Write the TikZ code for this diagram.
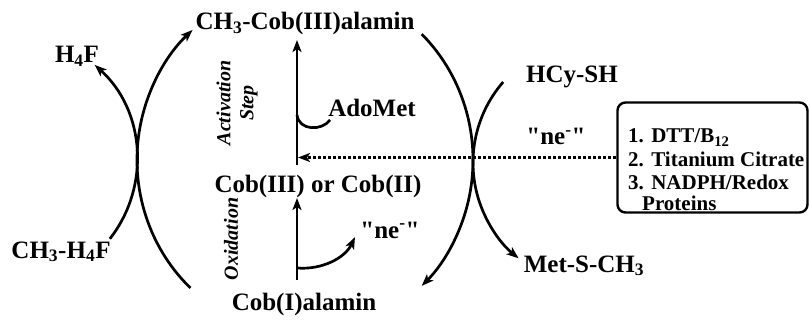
\documentclass[tikz,border=0pt]{standalone}
\usepackage{fontspec}
\setmainfont{Liberation Serif}[Ligatures=TeXOff]
\usetikzlibrary{arrows.meta}
\begin{document}
\begin{tikzpicture}[x=1pt,y=1pt,
  lbl/.style={font=\fontsize{25}{29}\selectfont\bfseries, inner sep=0pt, anchor=base},
  boxtxt/.style={font=\fontsize{21}{24}\selectfont\bfseries, inner sep=0pt, anchor=base west},
  side/.style={font=\fontsize{20}{23}\selectfont\bfseries\itshape, inner sep=0pt, rotate=90, align=center},
  plain/.style={line width=2.7pt},
  tip/.style={-{Stealth[length=12pt,width=9pt,inset=3pt]}},
  dots/.style={line width=2.3pt, dash pattern=on 3pt off 2pt},
  box/.style={draw, line width=2.4pt, rounded corners=8pt, minimum width=190pt, minimum height=110pt, inner sep=0pt}
]
\useasboundingbox (0,0) rectangle (810,-320);

% labels
\node[lbl] (ch3cob) at (305,-30) {CH\textsubscript{3}-Cob(III)alamin};
\node[lbl] (h4f) at (77,-63) {H\textsubscript{4}F};
\node[lbl] (ch3h4f) at (61,-258) {CH\textsubscript{3}-H\textsubscript{4}F};
\node[lbl] (cob3) at (318,-193) {Cob(III) or Cob(II)};
\node[lbl] (cob1) at (304,-310) {Cob(I)alamin};
\node[lbl] (adomet) at (372,-117) {AdoMet};
\node[lbl] (ne1) at (390,-238) {"ne\textsuperscript{-}"};
\node[lbl] (ne2) at (556,-145) {"ne\textsuperscript{-}"};
\node[lbl] (hcy) at (572,-83) {HCy-SH};
\node[lbl] (met) at (584,-272) {Met-S-CH\textsubscript{3}};
\node[side] (act) at (237,-103) {Activation\\Step};
\node[side] (oxi) at (231,-239) {Oxidation};

% box with reductants
\node[box] (box) at (712.5,-157.5) {};
\node[boxtxt] (l1) at (628,-143) {1.\hspace{0.35em}DTT/B\textsubscript{12}};
\node[boxtxt] (l2) at (628,-167) {2.\hspace{0.35em}Titanium Citrate};
\node[boxtxt] (l3) at (628,-190) {3.\hspace{0.35em}NADPH/Redox};
\node[boxtxt] (l4) at (642,-211) {Proteins};

% left crossing arcs
\path (9,-160) ++(-38:128pt) coordinate (astart);
\draw[plain,tip] (astart) arc[start angle=-38, end angle=48, radius=128pt];
\path (305,-160) ++(227:168pt and 175pt) coordinate (bstart);
\draw[plain,tip] (bstart) arc[start angle=227, end angle=132, x radius=168pt, y radius=175pt];

% right crossing arcs
\path (305,-160) ++(46:168pt and 175pt) coordinate (cstart);
\draw[plain,tip] (cstart) arc[start angle=46, end angle=-46, x radius=168pt, y radius=175pt];
\path (596,-162.7) ++(139:123pt) coordinate (dstart);
\draw[plain,tip] (dstart) arc[start angle=139, end angle=231, radius=123pt];

% central vertical steps
\coordinate (act0) at (297,-165);
\coordinate (act1) at (297,-40);
\draw[plain,tip] (act0) -- (act1);
\coordinate (ox0) at (297,-280);
\coordinate (ox1) at (297,-198);
\draw[plain,tip] (ox0) -- (ox1);

% AdoMet hook
\coordinate (ad0) at (297,-115);
\coordinate (ad1) at (330,-120);
\draw[plain] (ad0) .. controls (299,-131) and (322,-131) .. (ad1);

% ne- release hook
\coordinate (ne0) at (297,-268);
\coordinate (ne1t) at (355,-237);
\draw[plain,tip] (ne0) .. controls (322,-270) and (345,-258) .. (ne1t);

% dotted electron input
\coordinate (dotend) at (298,-157.5);
\draw[dots,tip] (box.west) -- (dotend);
\end{tikzpicture}
\end{document}
